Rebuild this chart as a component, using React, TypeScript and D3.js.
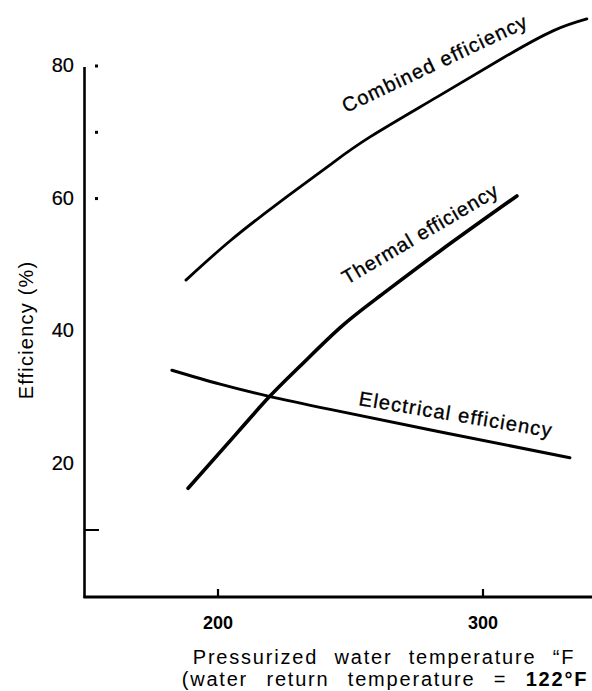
import React from 'react';
import * as d3 from 'd3';

// temperature (°F) vs efficiency (%)
const combinedTemp = [187.9, 204.5, 223.4, 242.3, 257.4, 282.6, 307.5, 326.4, 339.2];
const combinedEff = [47.7, 53.6, 59.5, 65.1, 69.3, 75.3, 81.2, 85.3, 87.1];

const thermalTemp = [188.7, 203.8, 218.9, 230.9, 246.0, 261.1, 283.8, 312.8];
const thermalEff = [16.3, 23.1, 29.9, 34.7, 40.5, 45.3, 52.1, 60.4];

const electricalTemp = [182.6, 200.8, 218.9, 242.3, 286.4, 332.8];
const electricalEff = [34.1, 32.0, 30.2, 28.2, 24.6, 20.9];

const yLabelTicks = [80, 60, 40, 20];
const yDotTicks = [80, 70, 60];
const yLineTicks = [10];
const xTicks = [200, 300];

const W = 592;
const H = 691;
const FONT = '"Liberation Sans", Arial, Helvetica, sans-serif';

const App: React.FC = () => {
    const x = d3.scaleLinear().domain([200, 300]).range([218, 483]);
    const y = d3.scaleLinear().domain([10, 80]).range([530, 66]);

    const axisLeft = x(150) - 1;
    const axisBottom = 597;

    const line = d3.line<[number, number]>()
        .x(d => x(d[0]))
        .y(d => y(d[1]))
        .curve(d3.curveNatural);

    const zip = (a: number[], b: number[]): [number, number][] => a.map((v, i) => [v, b[i]]);

    const series = [
        { name: 'combined', pts: zip(combinedTemp, combinedEff), width: 2.8 },
        { name: 'thermal', pts: zip(thermalTemp, thermalEff), width: 3.6 },
        { name: 'electrical', pts: zip(electricalTemp, electricalEff), width: 3 },
    ];

    // scanned print looks a bit heavy, thicken glyphs slightly
    const heavy = { stroke: '#000', strokeWidth: 0.35 };

    return (
        <svg width={W} height={H} style={{ position: 'absolute', left: 0, top: 0, background: '#fff' }}
            fontFamily={FONT}>
            {/* axes */}
            <line x1={axisLeft} x2={axisLeft} y1={y(80) + 1} y2={axisBottom + 1} stroke="#000" strokeWidth={2.6} />
            <line x1={axisLeft - 1} x2={W} y1={axisBottom} y2={axisBottom} stroke="#000" strokeWidth={2.8} />

            {/* y ticks */}
            {yDotTicks.map(v => (
                <rect key={'d' + v} x={95} y={y(v) - 1.5} width={3} height={3} fill="#000" />
            ))}
            {yLineTicks.map(v => (
                <line key={'l' + v} x1={axisLeft} x2={99} y1={y(v)} y2={y(v)} stroke="#000" strokeWidth={2} />
            ))}
            {yLabelTicks.map(v => (
                <text key={'t' + v} x={74} y={y(v) + 1} textAnchor="end" dominantBaseline="middle"
                    fontSize={20} {...heavy} strokeWidth={0.2}>{v}</text>
            ))}

            {/* x ticks */}
            {xTicks.map(v => (
                <g key={v}>
                    <line x1={x(v)} x2={x(v)} y1={axisBottom - 8} y2={axisBottom} stroke="#000" strokeWidth={2.2} />
                    <text x={x(v)} y={629} textAnchor="middle" fontSize={18} fontWeight="bold">{v}</text>
                </g>
            ))}

            {/* axis titles */}
            <text x={384} y={664} textAnchor="middle" fontSize={20} letterSpacing={1.8} wordSpacing={9}>
                Pressurized water temperature “F
            </text>
            <text x={385} y={686} textAnchor="middle" fontSize={20} letterSpacing={1.8} wordSpacing={11}>
                (water return temperature = <tspan fontWeight="bold">122°F</tspan>
            </text>
            <text transform="translate(33,330) rotate(-90)" textAnchor="middle" fontSize={20}
                letterSpacing={1.2}>Efficiency (%)</text>

            {/* curves */}
            {series.map(s => (
                <path key={s.name} d={line(s.pts) ?? ''} fill="none" stroke="#000" strokeWidth={s.width}
                    strokeLinecap="round" />
            ))}

            {/* curve labels */}
            <text transform="translate(346,113) rotate(-25.3)" fontSize={20} textLength={202}
                lengthAdjust="spacing" {...heavy}>Combined efficiency</text>
            <text transform="translate(347,285) rotate(-30.5)" fontSize={20} textLength={177}
                lengthAdjust="spacing" {...heavy}>Thermal efficiency</text>
            <text transform="translate(358,405) rotate(9.5)" fontSize={20} textLength={195}
                lengthAdjust="spacing" {...heavy}>Electrical efficiency</text>
        </svg>
    );
};

export default App;
